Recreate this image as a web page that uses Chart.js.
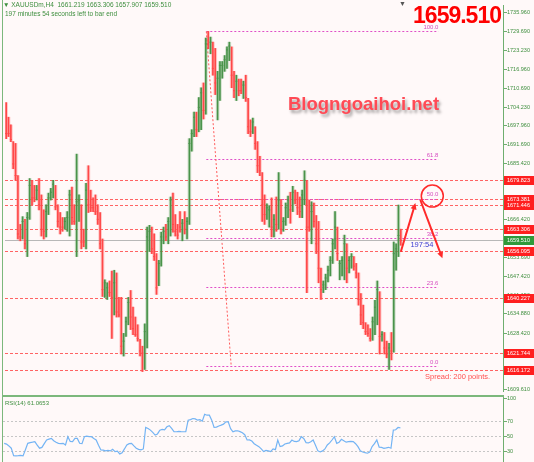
<!DOCTYPE html>
<html>
<head>
<meta charset="utf-8">
<title>XAUUSDm H4</title>
<script src="https://cdn.jsdelivr.net/npm/chart.js@4.4.0/dist/chart.umd.min.js"></script>
<style>
  body { margin: 0; width: 534px; height: 462px; overflow: hidden; position: relative;
         background: #fff9f9; font-family: "Liberation Sans", Arial, sans-serif; }
  canvas { position: absolute; left: 0; }
  #mainChart { top: 0; }
  #rsiChart { top: 396px; }
  .txt { position: absolute; white-space: nowrap; line-height: 1; }
  .frame { position: absolute; background: #7cb87c; }
</style>
</head>
<body>
<canvas id="mainChart" width="534" height="396"></canvas>
<canvas id="rsiChart" width="534" height="66"></canvas>
<div class="frame" style="left:2px;top:0;width:1px;height:462px"></div>
<div class="frame" style="left:2px;top:395px;width:502px;height:2px"></div>
<div class="txt" style="left:3px;top:2px;font-size:6.5px;color:#3f8f3f">▼ XAUUSDm,H4&nbsp; 1661.219 1663.306 1657.907 1659.510</div>
<div class="txt" style="left:5px;top:11px;font-size:6.5px;color:#3f8f3f">197 minutes 54 seconds left to bar end</div>
<div class="txt" style="left:399px;top:0;font-size:7px;color:#555">▼</div>
<div class="txt" style="right:33px;top:4px;font-size:23px;font-weight:bold;color:#ff0000;letter-spacing:-1px">1659.510</div>
<div class="txt" style="left:288px;top:95px;font-size:18.5px;font-weight:bold;color:#ff4a55;text-shadow:2px 3px 3px rgba(0,0,0,0.35)">Blogngoaihoi.net</div>
<div class="txt" style="left:425px;top:373px;font-size:7.5px;color:#ff5050">Spread: 200 points.</div>
<div class="txt" style="left:5px;top:400px;font-size:6px;color:#3f8f3f">RSI(14) 61.0653</div>

<script>
// Velas H4 (precio)
const opens = [
  1704.2, 1697.7, 1696.7, 1691.8, 1686.2, 1680.3, 1664.0, 1661.3, 1665.9, 1658.4,
  1668.2, 1678.0, 1676.4, 1673.8, 1679.0, 1671.5, 1664.9, 1662.6, 1669.2, 1673.8,
  1674.8, 1677.0, 1670.8, 1667.2, 1665.9, 1664.0, 1664.6, 1666.6, 1674.8, 1669.8,
  1665.9, 1668.2, 1669.8, 1661.7, 1659.4, 1678.0, 1674.8, 1673.1, 1673.1, 1669.8,
  1668.2, 1658.4, 1643.0, 1640.7, 1644.3, 1646.9, 1638.7, 1645.3, 1638.7, 1637.1,
  1622.4, 1627.9, 1632.2, 1640.7, 1634.5, 1632.2, 1629.9, 1625.7, 1622.4, 1621.4,
  1627.3, 1660.0, 1662.6, 1660.0, 1654.1, 1645.3, 1651.8, 1660.7, 1663.3, 1660.7,
  1662.6, 1673.1, 1665.9, 1664.0, 1668.2, 1662.6, 1668.2, 1662.6, 1666.6, 1692.1,
  1696.0, 1700.9, 1697.0, 1704.2, 1709.8, 1704.2, 1727.1, 1723.9, 1725.5, 1718.9,
  1702.6, 1709.1, 1716.3, 1717.6, 1719.6, 1722.2, 1723.9, 1715.0, 1708.5, 1712.4,
  1712.4, 1708.5, 1713.0, 1706.5, 1698.6, 1696.0, 1696.7, 1691.1, 1686.2, 1681.3,
  1673.1, 1668.2, 1665.9, 1673.1, 1663.3, 1672.5, 1664.9, 1671.5, 1663.3, 1665.9,
  1669.2, 1674.8, 1671.5, 1675.7, 1674.8, 1673.1, 1669.2, 1674.8, 1678.0, 1669.8,
  1663.3, 1670.5, 1666.6, 1660.0, 1649.5, 1643.0, 1644.3, 1646.9, 1649.5, 1653.5,
  1658.4, 1662.6, 1648.6, 1650.9, 1651.8, 1656.7, 1650.2, 1651.8, 1653.5, 1650.9,
  1647.6, 1640.4, 1635.5, 1631.2, 1629.9, 1628.9, 1627.3, 1632.2, 1636.5, 1642.0,
  1626.6, 1627.3, 1624.0, 1620.7, 1625.7, 1623.4, 1652.8, 1656.7, 1661.2
];
const highs = [
  1705.8, 1700.9, 1698.3, 1692.7, 1692.1, 1681.3, 1664.9, 1667.5, 1666.6, 1668.9,
  1680.3, 1679.7, 1678.0, 1678.0, 1680.3, 1674.8, 1669.8, 1671.5, 1675.4, 1677.0,
  1679.7, 1678.0, 1671.5, 1668.9, 1667.2, 1667.2, 1669.2, 1676.4, 1677.4, 1671.5,
  1688.5, 1674.8, 1671.5, 1663.3, 1678.7, 1684.6, 1676.4, 1673.8, 1674.8, 1671.5,
  1668.9, 1660.0, 1646.3, 1645.3, 1645.9, 1649.2, 1649.5, 1648.6, 1640.4, 1640.4,
  1628.3, 1633.8, 1640.4, 1642.7, 1637.1, 1633.8, 1631.2, 1626.3, 1624.0, 1631.5,
  1664.0, 1664.6, 1664.0, 1661.7, 1655.1, 1652.8, 1662.3, 1664.0, 1664.9, 1667.2,
  1674.1, 1675.4, 1668.2, 1664.9, 1669.2, 1666.6, 1669.2, 1667.2, 1693.7, 1696.7,
  1702.6, 1702.6, 1707.5, 1710.8, 1712.4, 1727.5, 1729.7, 1727.8, 1726.1, 1724.0,
  1716.3, 1719.6, 1719.6, 1721.6, 1724.5, 1726.1, 1724.5, 1716.3, 1715.0, 1713.7,
  1713.7, 1713.0, 1715.0, 1707.2, 1700.0, 1700.6, 1697.7, 1692.7, 1687.8, 1682.3,
  1674.8, 1671.8, 1671.2, 1673.8, 1668.2, 1674.1, 1682.3, 1673.1, 1667.2, 1672.1,
  1674.4, 1675.7, 1677.7, 1676.4, 1675.7, 1674.1, 1676.4, 1682.9, 1679.7, 1673.1,
  1672.5, 1672.1, 1667.9, 1665.9, 1650.2, 1645.9, 1648.2, 1650.9, 1654.1, 1660.0,
  1669.2, 1664.0, 1652.8, 1654.1, 1661.3, 1658.4, 1654.1, 1655.1, 1654.1, 1651.8,
  1648.6, 1641.7, 1637.8, 1631.9, 1631.2, 1629.9, 1633.8, 1639.4, 1645.9, 1642.3,
  1628.9, 1628.6, 1625.7, 1625.0, 1628.6, 1659.0, 1658.4, 1671.4, 1663.3
];
const lows = [
  1693.7, 1694.4, 1692.7, 1683.6, 1679.7, 1660.0, 1659.4, 1660.0, 1656.7, 1654.1,
  1666.6, 1671.5, 1672.5, 1673.1, 1669.8, 1661.0, 1660.0, 1660.7, 1668.2, 1673.1,
  1673.8, 1669.8, 1664.0, 1661.7, 1662.6, 1663.3, 1662.6, 1661.0, 1664.9, 1664.9,
  1654.1, 1665.9, 1656.7, 1657.4, 1656.7, 1668.9, 1669.2, 1669.2, 1668.2, 1664.9,
  1656.7, 1640.7, 1640.4, 1639.7, 1640.7, 1626.6, 1634.5, 1633.8, 1633.8, 1621.4,
  1620.7, 1627.3, 1631.2, 1629.6, 1627.9, 1627.3, 1625.7, 1620.7, 1615.5, 1616.2,
  1623.4, 1655.8, 1655.1, 1652.8, 1641.4, 1644.3, 1650.9, 1658.4, 1659.4, 1658.4,
  1661.0, 1662.3, 1661.0, 1660.0, 1662.3, 1659.4, 1661.7, 1660.0, 1664.9, 1689.5,
  1694.4, 1694.4, 1696.0, 1696.7, 1700.3, 1701.9, 1723.9, 1722.2, 1715.0, 1708.5,
  1700.0, 1706.5, 1714.0, 1716.3, 1717.3, 1719.9, 1710.8, 1707.5, 1706.5, 1708.1,
  1708.8, 1707.2, 1706.2, 1695.4, 1694.4, 1695.4, 1690.1, 1682.3, 1681.3, 1665.9,
  1664.9, 1666.6, 1664.0, 1660.7, 1660.7, 1662.6, 1663.3, 1661.7, 1662.6, 1664.6,
  1667.2, 1665.3, 1669.2, 1671.8, 1668.2, 1667.2, 1667.2, 1671.5, 1642.0, 1662.6,
  1658.4, 1664.0, 1655.1, 1645.3, 1639.7, 1642.0, 1643.0, 1645.6, 1647.6, 1651.8,
  1656.7, 1652.8, 1646.3, 1647.6, 1646.3, 1645.3, 1648.6, 1650.2, 1649.5, 1646.9,
  1637.8, 1631.2, 1629.9, 1627.9, 1627.3, 1625.7, 1626.0, 1627.9, 1631.2, 1621.4,
  1625.7, 1621.4, 1620.1, 1616.2, 1619.4, 1622.0, 1649.5, 1654.1, 1657.9
];
const closes = [
  1695.4, 1695.4, 1693.4, 1685.2, 1681.3, 1661.7, 1660.7, 1665.9, 1658.4, 1667.2,
  1678.0, 1673.8, 1673.8, 1676.4, 1671.5, 1663.3, 1662.6, 1669.2, 1673.8, 1675.7,
  1678.4, 1670.8, 1665.9, 1664.0, 1664.0, 1665.9, 1667.2, 1674.8, 1667.2, 1665.9,
  1672.5, 1673.1, 1659.0, 1659.0, 1676.4, 1671.5, 1670.5, 1670.5, 1669.2, 1666.6,
  1658.4, 1643.0, 1645.3, 1643.6, 1642.0, 1640.4, 1645.3, 1635.5, 1634.5, 1624.0,
  1625.7, 1632.2, 1638.7, 1633.8, 1629.9, 1627.9, 1626.6, 1622.4, 1621.7, 1628.9,
  1660.7, 1662.6, 1656.7, 1654.1, 1643.6, 1651.8, 1660.7, 1662.6, 1660.7, 1665.9,
  1673.1, 1664.9, 1662.6, 1661.3, 1664.0, 1665.3, 1663.3, 1665.9, 1692.1, 1695.4,
  1700.9, 1696.7, 1704.2, 1709.1, 1703.2, 1725.5, 1725.5, 1726.1, 1717.3, 1712.4,
  1714.0, 1718.3, 1718.3, 1720.2, 1723.5, 1724.8, 1715.0, 1709.8, 1713.0, 1709.8,
  1709.8, 1711.7, 1707.5, 1697.7, 1696.0, 1699.3, 1692.1, 1684.6, 1682.9, 1671.5,
  1668.2, 1670.5, 1669.8, 1664.0, 1666.6, 1664.9, 1673.1, 1663.3, 1665.9, 1670.5,
  1673.1, 1669.8, 1675.7, 1673.1, 1670.5, 1669.2, 1674.8, 1679.7, 1664.0, 1664.0,
  1669.2, 1665.9, 1658.4, 1650.2, 1643.0, 1644.6, 1646.9, 1649.5, 1652.8, 1658.4,
  1664.0, 1655.1, 1651.8, 1652.8, 1658.4, 1650.2, 1652.8, 1654.1, 1650.9, 1648.6,
  1639.7, 1634.5, 1631.9, 1628.9, 1628.3, 1626.6, 1632.2, 1637.1, 1643.0, 1627.3,
  1627.9, 1623.4, 1621.4, 1623.4, 1622.4, 1655.1, 1656.7, 1661.2, 1659.5
];
// RSI(14)
const rsiValues = [
  40.5, 39.5, 37, 34, 24, 23.8, 24, 24.5, 23.8, 32,
  40.5, 41.5, 42, 42.7, 38, 34, 35, 40, 44.9, 46,
  47.1, 44, 42, 40.5, 40, 40.5, 38.3, 49.3, 43, 42.7,
  47.1, 47, 40.5, 40, 49.3, 50, 49.5, 49.3, 47, 45,
  38, 31.7, 31.5, 30.4, 31, 30.4, 32.6, 29.5, 30, 26.4,
  28, 33, 38.3, 40, 40.5, 37, 34, 32.5, 31.7, 33,
  61.6, 60.3, 58.1, 55, 51.5, 53, 58, 59, 58.5, 62.5,
  64, 60.3, 56, 55.9, 56.5, 56, 55.9, 56, 71.3, 72,
  73.5, 73, 71.3, 72, 70, 79.2, 77.9, 78, 71.3, 61.6,
  62, 63.5, 64.7, 66, 69.1, 69, 60, 55.9, 57, 57.2,
  56, 54.6, 52, 44.9, 45, 43.6, 40, 38, 36.1, 33,
  29.5, 31, 30.4, 29.5, 33, 32, 44.9, 36.1, 37, 39.6,
  40.5, 41, 44.9, 43, 42.7, 44, 49.3, 47, 41.4, 41,
  42.7, 44.9, 38, 30.4, 29, 30.4, 33, 38.3, 41, 44.9,
  49.3, 40.5, 42, 45.8, 44, 42, 42.7, 43, 42.7, 40,
  36, 30.4, 29, 28, 27.3, 29, 36.1, 40, 44.9, 35.2,
  35, 33.9, 34.5, 35.2, 33.9, 58.1, 58.5, 61.6, 61.1
];

const priceTicks = [1735.96, 1729.69, 1723.23, 1716.96, 1710.69, 1704.23, 1697.96, 1691.69,
  1685.42, 1679.15, 1672.69, 1666.42, 1660.15, 1653.69, 1647.42, 1641.15, 1634.88, 1628.42,
  1622.15, 1615.88, 1609.61];
const levelLines = [1679.823, 1673.381, 1671.446, 1663.306, 1656.095, 1640.227, 1621.744, 1616.172];
const bidPrice = 1659.510;
const fibLevels = [100, 61.8, 50, 38.2, 23.6, 0];
const fibHigh = 1729.7, fibLow = 1617.3;
const fibStart = 85.2, fibEnd = 184, fibLowBar = 95.8;   // posiciones en barras
const rsiTicks = [100, 70, 50, 30];
const rsiLines = [70, 50, 30];
// flechas [barra1, precio1, barra2, precio2]
const arrows = [[168, 1655.7, 174.2, 1672.1], [176.3, 1673.1, 185.7, 1653.5]];
const circleMark = [181.4, 1674.4];
const timerText = '197:54', timerPos = [172.1, 1658.1];

const slotCount = 212; // incluye espacio libre a la derecha
const slots = Array.from({ length: slotCount }, (_, i) => i);
const isUp = closes.map((c, i) => c >= opens[i]);
const ranges = highs.map((h, i) => [lows[i], h]);
const lineColors = isUp.map(u => u ? '#4a934a' : '#ff4848');
const glowColors = isUp.map(u => u ? 'rgba(100,165,100,0.3)' : 'rgba(255,110,110,0.35)');

const axisGreen = '#6fae6f', textGreen = '#3f8f3f';

function drawArrow(ctx, x1, y1, x2, y2) {
  const ang = Math.atan2(y2 - y1, x2 - x1);
  const head = 7;
  ctx.beginPath();
  ctx.moveTo(x1, y1);
  ctx.lineTo(x2 - Math.cos(ang) * head * 0.7, y2 - Math.sin(ang) * head * 0.7);
  ctx.stroke();
  ctx.beginPath();
  ctx.moveTo(x2, y2);
  ctx.lineTo(x2 - head * Math.cos(ang - 0.45), y2 - head * Math.sin(ang - 0.45));
  ctx.lineTo(x2 - head * Math.cos(ang + 0.45), y2 - head * Math.sin(ang + 0.45));
  ctx.closePath();
  ctx.fill();
}

const fibPrice = l => fibLow + (fibHigh - fibLow) * l / 100;

const mainOverlay = {
  id: 'mainOverlay',
  beforeDatasetsDraw(chart) {
    const { ctx, chartArea: area, scales: { x, y } } = chart;
    ctx.save();
    ctx.lineWidth = 1;
    // niveles horizontales
    ctx.strokeStyle = '#ff6464';
    ctx.setLineDash([3, 2]);
    levelLines.forEach(v => {
      const py = Math.round(y.getPixelForValue(v)) + 0.5;
      ctx.beginPath(); ctx.moveTo(area.left, py); ctx.lineTo(area.right, py); ctx.stroke();
    });
    // fibonacci
    const fx1 = x.getPixelForValue(fibStart), fx2 = x.getPixelForValue(fibEnd);
    ctx.strokeStyle = '#e04fc8';
    ctx.setLineDash([2, 2]);
    fibLevels.forEach(l => {
      const py = Math.round(y.getPixelForValue(fibPrice(l))) + 0.5;
      ctx.beginPath(); ctx.moveTo(fx1, py); ctx.lineTo(fx2, py); ctx.stroke();
    });
    ctx.strokeStyle = '#ff5a5a';
    ctx.beginPath();
    ctx.moveTo(fx1, y.getPixelForValue(fibHigh));
    ctx.lineTo(x.getPixelForValue(fibLowBar), y.getPixelForValue(fibLow));
    ctx.stroke();
    // linea bid
    ctx.setLineDash([]);
    ctx.strokeStyle = '#b8b8b8';
    const by = Math.round(y.getPixelForValue(bidPrice)) + 0.5;
    ctx.beginPath(); ctx.moveTo(area.left, by); ctx.lineTo(area.right, by); ctx.stroke();
    ctx.restore();
  },
  afterDraw(chart) {
    const { ctx, chartArea: area, scales: { x, y } } = chart;
    ctx.save();
    // etiquetas fibo
    const fx2 = x.getPixelForValue(fibEnd);
    ctx.font = '6px "Liberation Sans", Arial';
    ctx.fillStyle = '#d64fc0';
    ctx.textAlign = 'right';
    ctx.textBaseline = 'bottom';
    fibLevels.forEach(l => ctx.fillText(l.toFixed(1), fx2, y.getPixelForValue(fibPrice(l)) - 1));
    // cajas en el eje de precios
    ctx.font = '5.5px "Liberation Sans", Arial';
    ctx.textAlign = 'left';
    ctx.textBaseline = 'middle';
    const box = (v, color) => {
      const py = y.getPixelForValue(v);
      ctx.fillStyle = color;
      ctx.fillRect(area.right + 1, Math.round(py) - 4, 31, 9);
      ctx.fillStyle = '#ffffff';
      ctx.fillText(v.toFixed(3), area.right + 4, py + 0.5);
    };
    levelLines.forEach(v => box(v, '#ff1f1f'));
    box(bidPrice, '#2f9a3a');
    // flechas y circulo
    ctx.strokeStyle = '#ff2a2a';
    ctx.fillStyle = '#ff2a2a';
    ctx.lineWidth = 2;
    arrows.forEach(a => drawArrow(ctx, x.getPixelForValue(a[0]), y.getPixelForValue(a[1]),
      x.getPixelForValue(a[2]), y.getPixelForValue(a[3])));
    ctx.lineWidth = 1.5;
    ctx.beginPath();
    ctx.arc(x.getPixelForValue(circleMark[0]), y.getPixelForValue(circleMark[1]), 11, 0, Math.PI * 2);
    ctx.stroke();
    // tiempo restante
    ctx.font = '7.5px "Liberation Sans", Arial';
    ctx.fillStyle = '#3b3bd0';
    ctx.fillText(timerText, x.getPixelForValue(timerPos[0]), y.getPixelForValue(timerPos[1]));
    ctx.restore();
  }
};

const rsiOverlay = {
  id: 'rsiOverlay',
  beforeDatasetsDraw(chart) {
    const { ctx, chartArea: area, scales: { y } } = chart;
    ctx.save();
    ctx.strokeStyle = '#c6c6c6';
    ctx.lineWidth = 1;
    ctx.setLineDash([2, 2]);
    rsiLines.forEach(v => {
      const py = Math.round(y.getPixelForValue(v)) + 0.5;
      ctx.beginPath(); ctx.moveTo(area.left, py); ctx.lineTo(area.right, py); ctx.stroke();
    });
    ctx.restore();
  }
};

const rightAxis = (min, max, tickList, fmt) => ({
  position: 'right',
  min: min,
  max: max,
  afterBuildTicks: s => { s.ticks = tickList.map(v => ({ value: v })); },
  afterFit: s => { s.width = 31; },
  grid: { drawOnChartArea: false, tickLength: 4, color: axisGreen },
  border: { color: axisGreen },
  ticks: { padding: 0, color: textGreen, font: { size: 5.5, lineHeight: 0.05 }, callback: fmt }
});

new Chart(document.getElementById('mainChart'), {
  type: 'bar',
  data: {
    labels: slots,
    datasets: [
      { data: ranges, backgroundColor: glowColors, barThickness: 3, grouped: false, order: 3 },
      { data: ranges, backgroundColor: lineColors, barThickness: 1, grouped: false, order: 2 },
      { type: 'line', data: closes, showLine: false, pointStyle: 'line', pointRadius: 1,
        pointBorderWidth: 1, pointBorderColor: lineColors, order: 1 }
    ]
  },
  options: {
    responsive: false,
    animation: false,
    layout: { padding: { left: 3 } },
    plugins: { legend: { display: false }, tooltip: { enabled: false } },
    scales: {
      x: { display: false, offset: true },
      y: rightAxis(1608.96, 1738.58, priceTicks, v => v.toFixed(3))
    }
  },
  plugins: [mainOverlay]
});

new Chart(document.getElementById('rsiChart'), {
  type: 'line',
  data: {
    labels: slots,
    datasets: [{ data: rsiValues, borderColor: '#74b4f4', borderWidth: 1.2, pointRadius: 0, tension: 0 }]
  },
  options: {
    responsive: false,
    animation: false,
    layout: { padding: { left: 3 } },
    plugins: { legend: { display: false }, tooltip: { enabled: false } },
    scales: {
      x: { display: false, offset: true },
      y: rightAxis(15.8, 103.3, rsiTicks, v => String(v))
    }
  },
  plugins: [rsiOverlay]
});
</script>
</body>
</html>
